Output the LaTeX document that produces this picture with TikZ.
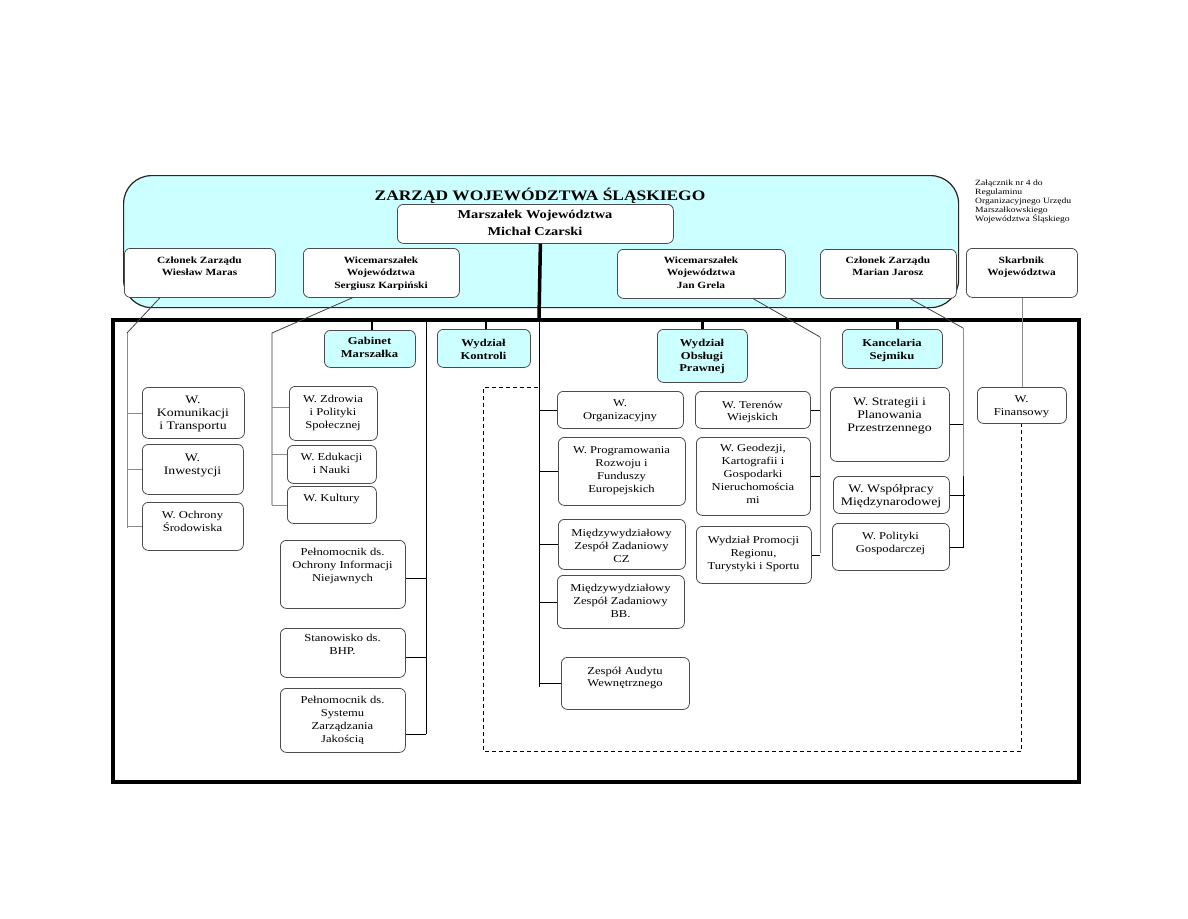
\documentclass[tikz,border=0pt]{standalone}
\usepackage{fontspec}
\setmainfont{Liberation Serif}[FakeStretch=1.2]
\definecolor{cyanbg}{RGB}{204,255,255}
\tikzset{
  box/.style={draw=black!70, rounded corners=6pt, fill=white, line width=0.8pt, inner sep=0pt},
  cbox/.style={box, fill=cyanbg},
  txt/.style={anchor=north, inner sep=0pt, align=center, font=\fontsize{10.5}{12.8}\selectfont},
  ltxt/.style={txt, font=\fontsize{11.5}{13.2}\selectfont},
  btxt/.style={txt, font=\bfseries\fontsize{9.5}{12.5}\selectfont},
  ctxt/.style={txt, font=\bfseries\fontsize{10.5}{12.5}\selectfont},
  mtxt/.style={txt, font=\bfseries\fontsize{12}{17}\selectfont},
  conn/.style={line width=0.8pt, draw=black},
  gconn/.style={line width=0.8pt, draw=black!45},
  dconn/.style={line width=0.8pt, draw=black!75},
  stub/.style={line width=2.5pt},
}
% name, x1, y1, x2, y2, box style, text style, first-line y, text
\newcommand\ob[9]{%
  \node[#6, minimum width={(#4-#2)*1pt}, minimum height={(#5-#3)*1pt}, anchor=north west] (#1) at (#2,#3) {};
  \node[#7] (#1t) at ({(#2+#4)/2},{#8-3.5}) {#9};}
\begin{document}
\begin{tikzpicture}[x=1pt,y=-1pt]
\fill[white] (0,0) rectangle (1188,918);
\useasboundingbox (0,0) rectangle (1188,918);

% board
\node[draw=black!85, fill=cyanbg, line width=1.2pt, rounded corners=28pt, minimum width=835pt, minimum height=132pt, anchor=north west] (zarzad) at (123,175) {};
\node[font=\bfseries\fontsize{14.5}{16}\selectfont, inner sep=0pt] (title) at (540,196) {ZARZĄD WOJEWÓDZTWA ŚLĄSKIEGO};
\node[anchor=north west, inner sep=0pt, align=left, font=\fontsize{8}{9}\selectfont] (note) at (975,180)
  {Załącznik nr 4 do\\Regulaminu\\Organizacyjnego Urzędu\\Marszałkowskiego\\Województwa Śląskiego};

% frame
\node[draw, line width=3.5pt, minimum width=966pt, minimum height=462pt, anchor=north west, inner sep=0pt] (frame) at (111,318) {};

% spines
\coordinate (mT) at (127,333); \coordinate (mB) at (127,528);
\coordinate (kT) at (272,333); \coordinate (kB) at (272,505);
\coordinate (pT) at (426,318); \coordinate (pB) at (426,734);
\coordinate (cT) at (539,318); \coordinate (cB) at (539,687);
\coordinate (gT) at (820,337); \coordinate (gB) at (820,553);
\coordinate (jT) at (963,328); \coordinate (jM) at (963,476); \coordinate (jB) at (963,548);

% dashed
\draw[dashed, dash pattern=on 4pt off 3pt, line width=0.8pt] (1021.5,423) -- (1021.5,751) -- (483,751) -- (483,387) -- (539,387);

% boxes
\ob{marsz}{397}{204}{673}{243}{box}{mtxt}{213}{Marszałek Województwa\\Michał Czarski}
\ob{maras}{124}{248}{275}{297}{box}{btxt}{260}{Członek Zarządu\\Wiesław Maras}
\ob{karp}{303}{248}{459}{297}{box}{btxt}{260}{Wicemarszałek\\Województwa\\Sergiusz Karpiński}
\ob{grela}{617}{249}{785}{298}{box}{btxt}{260}{Wicemarszałek\\Województwa\\Jan Grela}
\ob{jarosz}{820}{249}{956}{298}{box}{btxt}{260}{Członek Zarządu\\Marian Jarosz}
\ob{skarb}{966}{248}{1077}{297}{box}{btxt}{260}{Skarbnik\\Województwa}

\draw[line width=3.5pt] ([xshift=5pt]marsz.south) -- (cT);
\draw[dconn] ([xshift=-40pt]maras.south) -- (mT);
\draw[gconn] (mT) -- (mB);
\draw[dconn] ([xshift=-29pt]karp.south) -- (kT) -- (kB);
\draw[dconn] ([xshift=52pt]grela.south) -- (gT);
\draw[gconn] (gT) -- (gB);
\draw[dconn] ([xshift=22pt]jarosz.south) -- (jT);
\draw[gconn] (jT) -- (jM);
\draw[conn] (jM) -- (jB);
\draw[conn] (pT) -- (pB);
\draw[conn] (cT) -- (cB);

\ob{gabinet}{324}{330}{415}{367}{cbox}{ctxt}{341}{Gabinet\\Marszałka}
\ob{kontrola}{437}{329}{530}{367}{cbox}{ctxt}{343}{Wydział\\Kontroli}
\ob{prawna}{657}{329}{747}{382}{cbox}{ctxt}{343}{Wydział\\Obsługi\\Prawnej}
\ob{kancel}{842}{329}{942}{368}{cbox}{ctxt}{343}{Kancelaria\\Sejmiku}
\ob{kom}{142}{387}{244}{438}{box}{ltxt}{399}{W.\\Komunikacji\\i Transportu}
\ob{inw}{142}{444}{243}{494}{box}{ltxt}{457}{W.\\Inwestycji}
\ob{ochr}{142}{502}{243}{550}{box}{txt}{515}{W. Ochrony\\Środowiska}
\ob{zdrow}{289}{386}{377}{440}{box}{txt}{399}{W. Zdrowia\\i Polityki\\Społecznej}
\ob{eduk}{287}{445}{376}{483}{box}{txt}{457}{W. Edukacji\\i Nauki}
\ob{kult}{287}{486}{376}{523}{box}{txt}{498}{W. Kultury}
\ob{pelnoc}{280}{540}{405}{608}{box}{txt}{552}{Pełnomocnik ds.\\Ochrony Informacji\\Niejawnych}
\ob{bhp}{280}{628}{405}{677}{box}{txt}{638}{Stanowisko ds.\\BHP.}
\ob{pelsys}{280}{688}{405}{752}{box}{txt}{700}{Pełnomocnik ds.\\Systemu\\Zarządzania\\Jakością}
\ob{org}{557}{391}{683}{428}{box}{txt}{403}{W.\\Organizacyjny}
\ob{prog}{558}{437}{685}{505}{box}{txt}{450}{W. Programowania\\Rozwoju i\\Funduszy\\Europejskich}
\ob{cz}{558}{519}{685}{569}{box}{txt}{533}{Międzywydziałowy\\Zespół Zadaniowy\\CZ}
\ob{bb}{557}{575}{684}{628}{box}{txt}{588}{Międzywydziałowy\\Zespół Zadaniowy\\BB.}
\ob{audyt}{561}{657}{689}{709}{box}{txt}{670}{Zespół Audytu\\Wewnętrznego}
\ob{teren}{695}{391}{810}{428}{box}{txt}{404}{W. Terenów\\Wiejskich}
\ob{geod}{696}{437}{810}{515}{box}{txt}{448}{W. Geodezji,\\Kartografii i\\Gospodarki\\Nieruchomościa\\mi}
\ob{promo}{696}{526}{811}{583}{box}{txt}{540}{Wydział Promocji\\Regionu,\\Turystyki i Sportu}
\ob{strat}{830}{387}{949}{461}{box}{ltxt}{401}{W. Strategii i\\Planowania\\Przestrzennego}
\ob{wspol}{833}{476}{949}{513}{box}{ltxt}{488}{W. Współpracy\\Międzynarodowej}
\ob{polit}{832}{523}{949}{570}{box}{txt}{536}{W. Polityki\\Gospodarczej}
\ob{finans}{977}{387}{1066}{423}{box}{txt}{399}{W.\\Finansowy}

% stubs
\draw[stub] ([xshift=2pt]gabinet.north) -- ++(0,-12);
\draw[stub] ([xshift=2pt]kontrola.north) -- ++(0,-11);
\draw[stub] (prawna.north) -- ++(0,-11);
\draw[stub] ([xshift=5pt]kancel.north) -- ++(0,-11);

% branches
\foreach \b in {kom,inw,ochr} \draw[gconn] (\b.west) -- (\b.west -| mT);
\draw[gconn] ([yshift=6pt]zdrow.west) -- ([yshift=6pt]zdrow.west -| kT);
\draw[gconn] ([yshift=10pt]eduk.west) -- ([yshift=10pt]eduk.west -| kT);
\draw[gconn] (kult.west) -- (kult.west -| kT);
\draw[conn] ([yshift=-4pt]pelnoc.east) -- ([yshift=-4pt]pelnoc.east -| pT);
\draw[conn] ([yshift=-4pt]bhp.east) -- ([yshift=-4pt]bhp.east -| pT);
\draw[conn] ([yshift=-14pt]pelsys.east) -- ([yshift=-14pt]pelsys.east -| pT);
\foreach \b in {org,prog,cz,bb,audyt} \draw[conn] (\b.west) -- (\b.west -| cT);
\foreach \b in {teren,geod,promo} \draw[conn] (\b.east) -- (\b.east -| gT);
\foreach \b in {strat,polit} \draw[conn] (\b.east) -- (\b.east -| jT);
\draw[conn] (wspol.east) -- ([xshift=2pt]wspol.east -| jT);
\draw[gconn] (skarb.south) -- (finans.north);
\end{tikzpicture}
\end{document}
